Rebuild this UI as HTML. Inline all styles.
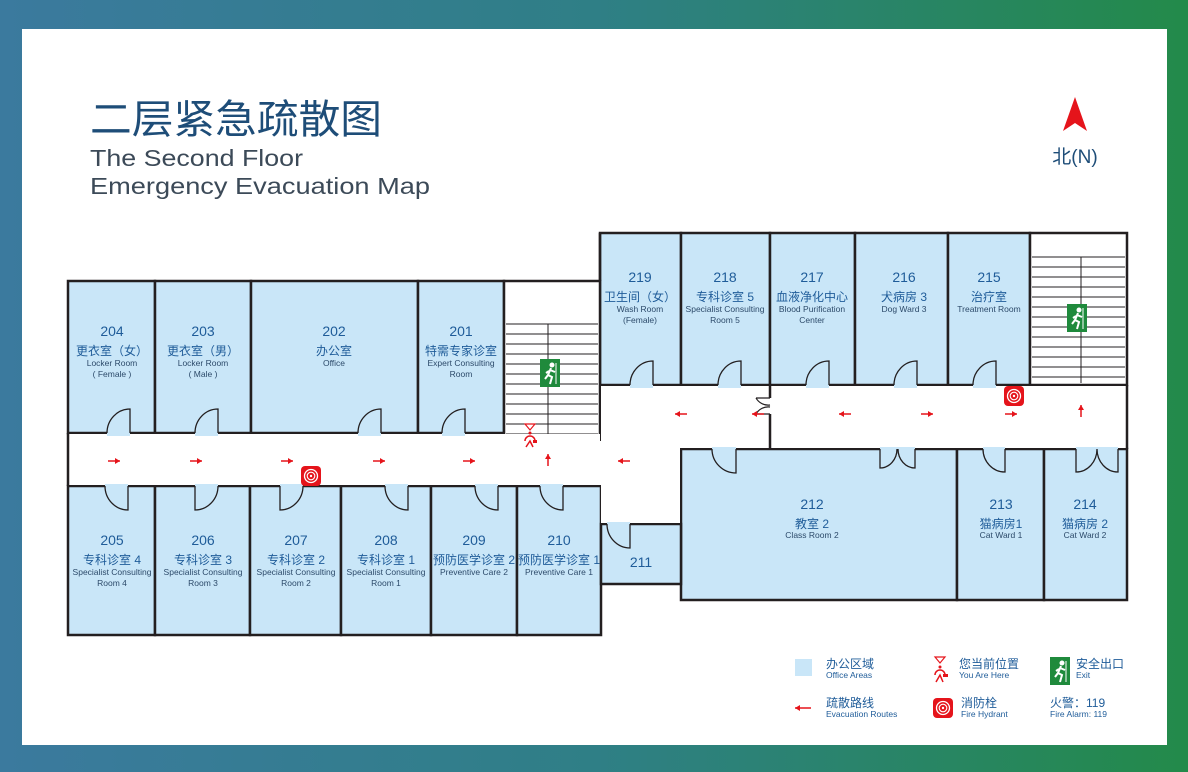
<!DOCTYPE html>
<html><head><meta charset="utf-8"><style>
html,body{margin:0;padding:0;}
body{width:1188px;height:772px;background:linear-gradient(90deg,#3b7a9e 0%,#2f7f86 50%,#238a4a 100%);position:relative;overflow:hidden;font-family:"Liberation Sans","Noto Sans CJK SC",sans-serif;}
#card{position:absolute;left:22px;top:29px;width:1145px;height:716px;background:#fff;}
svg{position:absolute;left:0;top:0;}
</style></head><body>
<div id="card"></div>
<svg width="1188" height="772" viewBox="0 0 1188 772" font-family="Liberation Sans, Noto Sans CJK SC, sans-serif">
<defs>
<g id="exit"><rect x="0" y="0" width="20" height="28" fill="#1f8a3c"/><circle cx="12" cy="6" r="2.5" fill="#fff"/><path d="M11 9 L8 16 L12 18 L10 25 M8 16 L5 20 M10 11 L15 13 M9 12 L6 14" stroke="#fff" stroke-width="2" fill="none"/><path d="M16 4 V25" stroke="#fff" stroke-width="1"/></g>
<g id="hyd"><rect x="-10" y="-10" width="20" height="20" rx="4" fill="#e5141b"/><circle cx="0" cy="0" r="6.5" fill="none" stroke="#fff" stroke-width="1.3"/><circle cx="0" cy="0" r="3.8" fill="none" stroke="#fff" stroke-width="1.1"/><circle cx="0" cy="0" r="1.2" fill="#fff"/></g>
<g id="ar"><path d="M0 0 H-12" stroke="#e5141b" stroke-width="1.5"/><path d="M0 0 L-5 -3 L-5 3 Z" fill="#e5141b"/></g>
</defs>

<!-- Titles -->
<text x="90" y="133" font-size="40" fill="#1e4d78" font-family="Noto Sans CJK SC, sans-serif" textLength="292" lengthAdjust="spacingAndGlyphs">二层紧急疏散图</text>
<text x="90" y="166" font-size="23" fill="#3c4a58" textLength="213" lengthAdjust="spacingAndGlyphs">The Second Floor</text>
<text x="90" y="194" font-size="23" fill="#3c4a58" textLength="340" lengthAdjust="spacingAndGlyphs">Emergency Evacuation Map</text>
<path d="M1075 97 L1063 131 L1075 123 L1087 131 Z" fill="#e5141b"/>
<text x="1075" y="163" font-size="19" fill="#1e4d78" text-anchor="middle">北(N)</text>

<g stroke="#231f20" stroke-width="2.5" fill="#c9e6f8">
<rect x="68" y="281" width="87" height="152"/>
<rect x="155" y="281" width="96" height="152"/>
<rect x="251" y="281" width="167" height="152"/>
<rect x="418" y="281" width="86" height="152"/>
<rect x="68" y="486" width="87" height="149"/>
<rect x="155" y="486" width="95" height="149"/>
<rect x="250" y="486" width="91" height="149"/>
<rect x="341" y="486" width="90" height="149"/>
<rect x="431" y="486" width="86" height="149"/>
<rect x="517" y="486" width="84" height="149"/>
<rect x="600" y="233" width="81" height="152"/>
<rect x="681" y="233" width="89" height="152"/>
<rect x="770" y="233" width="85" height="152"/>
<rect x="855" y="233" width="93" height="152"/>
<rect x="948" y="233" width="82" height="152"/>
<rect x="681" y="449" width="276" height="151"/>
<rect x="957" y="449" width="87" height="151"/>
<rect x="1044" y="449" width="83" height="151"/>
<rect x="601" y="524" width="80" height="60"/>
</g>
<g stroke="#231f20" fill="#fff">
<rect x="504" y="281" width="96" height="159" stroke-width="2.5"/>
<rect x="1030" y="233" width="97" height="152" stroke-width="2.5"/>
</g>
<g stroke="#231f20" stroke-width="1">
<path d="M506 324H598M506 334H598M506 344H598M506 354H598M506 364H598M506 374H598M506 384H598M506 394H598M506 404H598M506 414H598M506 424H598M506 434H598M548 324V440"/>
<path d="M1032 257H1125M1032 267H1125M1032 277H1125M1032 287H1125M1032 297H1125M1032 307H1125M1032 317H1125M1032 327H1125M1032 337H1125M1032 347H1125M1032 357H1125M1032 367H1125M1032 377H1125M1081 257V383"/>
</g>
<rect x="69" y="434" width="531" height="51" fill="#fff"/>
<rect x="504" y="441" width="97" height="44" fill="#fff"/>
<rect x="601" y="386" width="525" height="62" fill="#fff"/>
<rect x="601" y="448" width="79" height="75" fill="#fff"/>
<g stroke="#231f20" stroke-width="2.5" fill="none">
<path d="M68 433V486M1127 385V449M770 385V398M770 414V449M600 233V281"/>
</g>
<g stroke="#231f20" stroke-width="1.2" fill="none"><path d="M756 398H770M756 414H770M756 398 A14 14 0 0 0 770 405M756 414 A14 14 0 0 1 770 407"/></g>

<g fill="#c9e6f8" stroke="none">
<rect x="107" y="431" width="23" height="5"/><rect x="195" y="431" width="23" height="5"/><rect x="358" y="431" width="23" height="5"/><rect x="442" y="431" width="23" height="5"/>
<rect x="105" y="484" width="23" height="5"/><rect x="195" y="484" width="23" height="5"/><rect x="280" y="484" width="23" height="5"/><rect x="385" y="484" width="23" height="5"/><rect x="475" y="484" width="23" height="5"/><rect x="540" y="484" width="23" height="5"/>
<rect x="630" y="383" width="23" height="5"/><rect x="718" y="383" width="23" height="5"/><rect x="806" y="383" width="23" height="5"/><rect x="894" y="383" width="23" height="5"/><rect x="973" y="383" width="23" height="5"/>
<rect x="712" y="447" width="24" height="5"/><rect x="880" y="447" width="35" height="5"/><rect x="983" y="447" width="22" height="5"/><rect x="1076" y="447" width="42" height="5"/>
<rect x="607" y="522" width="23" height="5"/>
</g>
<g stroke="#231f20" stroke-width="1.3" fill="none">
<path d="M130 433V409 A23 24 0 0 0 107 433"/>
<path d="M218 433V409 A23 24 0 0 0 195 433"/>
<path d="M381 433V409 A23 24 0 0 0 358 433"/>
<path d="M465 433V409 A23 24 0 0 0 442 433"/>
<path d="M653 385V361 A23 24 0 0 0 630 385"/>
<path d="M741 385V361 A23 24 0 0 0 718 385"/>
<path d="M829 385V361 A23 24 0 0 0 806 385"/>
<path d="M917 385V361 A23 24 0 0 0 894 385"/>
<path d="M996 385V361 A23 24 0 0 0 973 385"/>
<path d="M128 486V510 A23 24 0 0 1 105 486"/>
<path d="M195 486V510 A23 24 0 0 0 218 486"/>
<path d="M280 486V510 A23 24 0 0 0 303 486"/>
<path d="M408 486V510 A23 24 0 0 1 385 486"/>
<path d="M498 486V510 A23 24 0 0 1 475 486"/>
<path d="M563 486V510 A23 24 0 0 1 540 486"/>
<path d="M736 449V473 A24 24 0 0 1 712 449"/>
<path d="M880 449V468 A17 19 0 0 0 897 449 M915 449V468 A17 19 0 0 1 898 449"/>
<path d="M1005 449V472 A22 23 0 0 1 983 449"/>
<path d="M1076 449V472 A21 23 0 0 0 1097 449 M1118 449V472 A21 23 0 0 1 1097 449"/>
<path d="M630 524V548 A23 24 0 0 1 607 524"/>
</g>

<g fill="#1f5c99" text-anchor="middle">
<g font-size="14">
<text x="112" y="336">204</text><text x="203" y="336">203</text><text x="334" y="336">202</text><text x="461" y="336">201</text>
<text x="112" y="545">205</text><text x="203" y="545">206</text><text x="296" y="545">207</text><text x="386" y="545">208</text><text x="474" y="545">209</text><text x="559" y="545">210</text>
<text x="640" y="282">219</text><text x="725" y="282">218</text><text x="812" y="282">217</text><text x="904" y="282">216</text><text x="989" y="282">215</text>
<text x="812" y="509">212</text><text x="1001" y="509">213</text><text x="1085" y="509">214</text><text x="641" y="567">211</text>
</g>
<g font-size="12">
<text x="112" y="355">更衣室（女）</text><text x="203" y="355">更衣室（男）</text><text x="334" y="355">办公室</text><text x="461" y="355">特需专家诊室</text>
<text x="112" y="564">专科诊室 4</text><text x="203" y="564">专科诊室 3</text><text x="296" y="564">专科诊室 2</text><text x="386" y="564">专科诊室 1</text><text x="474" y="564">预防医学诊室 2</text><text x="559" y="564">预防医学诊室 1</text>
<text x="640" y="301">卫生间（女）</text><text x="725" y="301">专科诊室 5</text><text x="812" y="301">血液净化中心</text><text x="904" y="301">犬病房 3</text><text x="989" y="301">治疗室</text>
<text x="812" y="528">教室 2</text><text x="1001" y="528">猫病房1</text><text x="1085" y="528">猫病房 2</text>
</g>
<g font-size="8.5" fill="#2c4a6a">
<text x="112" y="366">Locker Room</text><text x="112" y="377">( Female )</text>
<text x="203" y="366">Locker Room</text><text x="203" y="377">( Male )</text>
<text x="334" y="366">Office</text>
<text x="461" y="366">Expert Consulting</text><text x="461" y="377">Room</text>
<text x="112" y="575">Specialist Consulting</text><text x="112" y="586">Room 4</text>
<text x="203" y="575">Specialist Consulting</text><text x="203" y="586">Room 3</text>
<text x="296" y="575">Specialist Consulting</text><text x="296" y="586">Room 2</text>
<text x="386" y="575">Specialist Consulting</text><text x="386" y="586">Room 1</text>
<text x="474" y="575">Preventive Care 2</text><text x="559" y="575">Preventive Care 1</text>
<text x="640" y="312">Wash Room</text><text x="640" y="323">(Female)</text>
<text x="725" y="312">Specialist Consulting</text><text x="725" y="323">Room 5</text>
<text x="812" y="312">Blood Purification</text><text x="812" y="323">Center</text>
<text x="904" y="312">Dog Ward 3</text><text x="989" y="312">Treatment Room</text>
<text x="812" y="538">Class Room 2</text><text x="1001" y="538">Cat Ward 1</text><text x="1085" y="538">Cat Ward 2</text>
</g>
</g>

<use href="#exit" x="540" y="359"/>
<use href="#exit" x="1067" y="304"/>
<use href="#hyd" x="311" y="476"/>
<use href="#hyd" x="1014" y="396"/>
<g fill="#e5141b" stroke="#e5141b">
<path d="M525 424H535L530 430Z" fill="none" stroke-width="1.2"/>
<circle cx="530" cy="433" r="1.5" stroke="none"/>
<path d="M525 441 A5 5 0 0 1 535 441 M526 447 L530 441 L533 447" fill="none" stroke-width="1.5"/>
<rect x="533" y="440" width="4" height="3" stroke="none"/>
</g>
<use href="#ar" x="120" y="461"/><use href="#ar" x="202" y="461"/><use href="#ar" x="293" y="461"/><use href="#ar" x="385" y="461"/><use href="#ar" x="475" y="461"/>
<use href="#ar" x="618" y="461" transform="rotate(180 618 461)"/>
<use href="#ar" x="548" y="454" transform="rotate(-90 548 454)"/>
<use href="#ar" x="675" y="414" transform="rotate(180 675 414)"/>
<use href="#ar" x="752" y="414" transform="rotate(180 752 414)"/>
<use href="#ar" x="839" y="414" transform="rotate(180 839 414)"/>
<use href="#ar" x="933" y="414"/><use href="#ar" x="1017" y="414"/>
<use href="#ar" x="1081" y="405" transform="rotate(-90 1081 405)"/>

<rect x="795" y="659" width="17" height="17" fill="#c9e6f8"/>
<text x="826" y="668" font-size="12" fill="#1f5c99">办公区域</text>
<text x="826" y="678" font-size="8.5" fill="#1f5c99">Office Areas</text>
<path d="M795 708 L800 705 L800 711Z" fill="#e5141b"/><path d="M795 708H811" stroke="#e5141b" stroke-width="1.5"/>
<text x="826" y="707" font-size="12" fill="#1f5c99">疏散路线</text>
<text x="826" y="717" font-size="8.5" fill="#1f5c99">Evacuation Routes</text>
<g fill="#e5141b" stroke="#e5141b">
<path d="M935 657H945L940 663Z" fill="none" stroke-width="1.2"/>
<circle cx="940" cy="667" r="1.5" stroke="none"/>
<path d="M935 675 A5 5 0 0 1 945 675 M936 682 L940 675 L943 682" fill="none" stroke-width="1.5"/>
<rect x="943" y="674" width="5" height="3" stroke="none"/>
</g>
<text x="959" y="668" font-size="12" fill="#1f5c99">您当前位置</text>
<text x="959" y="678" font-size="8.5" fill="#1f5c99">You Are Here</text>
<use href="#hyd" x="943" y="708"/>
<text x="961" y="707" font-size="12" fill="#1f5c99">消防栓</text>
<text x="961" y="717" font-size="8.5" fill="#1f5c99">Fire Hydrant</text>
<use href="#exit" x="1050" y="657"/>
<text x="1076" y="668" font-size="12" fill="#1f5c99">安全出口</text>
<text x="1076" y="678" font-size="8.5" fill="#1f5c99">Exit</text>
<text x="1050" y="707" font-size="12" fill="#1f5c99">火警：119</text>
<text x="1050" y="717" font-size="8.5" fill="#1f5c99">Fire Alarm:  119</text>
</svg>
</body></html>
